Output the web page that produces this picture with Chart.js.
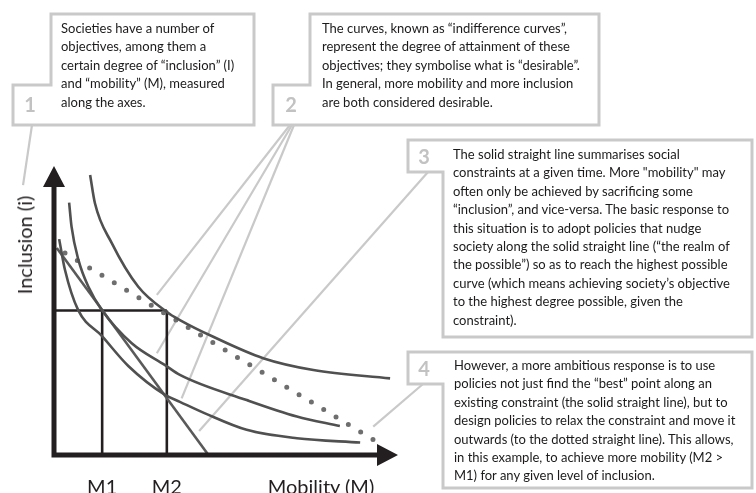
<!DOCTYPE html>
<html><head><meta charset="utf-8">
<script src="https://cdn.jsdelivr.net/npm/chart.js@4.4.1/dist/chart.umd.min.js"></script>
<style>
html,body{margin:0;padding:0;background:#fff;}
#wrap{position:relative;width:756px;height:493px;overflow:hidden;background:#fff;}
canvas{position:absolute;left:0;top:0;}
.txt{position:absolute;font-family:Lato,sans-serif;font-size:13px;line-height:18.4px;color:#1c1a1b;white-space:pre;}
.num{position:absolute;font-family:Lato,sans-serif;font-weight:bold;font-size:20px;color:#c2c2c2;transform:translate(-50%,-50%);line-height:1;}
.lab{position:absolute;font-family:Lato,sans-serif;font-size:20px;color:#231f20;white-space:nowrap;line-height:20px;}
</style></head>
<body><div id="wrap"><canvas id="c" width="756" height="493"></canvas></div>
<script>
// ---- data ----
const curveA_x = [1.05, 1.19, 1.68, 2.45, 3.28, 3.66, 4.63, 6.08, 7.54, 9.77];
const curveA_y = [9.69, 8.71, 7.33, 5.82, 4.95, 4.67, 4.09, 3.35, 2.94, 2.65];
const curveB_x = [0.44, 0.51, 0.71, 1.00, 1.39, 2.26, 3.23, 3.66, 5.60, 7.06, 8.31];
const curveB_y = [8.73, 7.90, 6.75, 5.82, 5.02, 3.87, 3.11, 2.77, 1.90, 1.33, 1.00];
const curveC_x = [0.15, 0.32, 0.70, 1.39, 2.16, 3.23, 3.66, 4.39, 5.60, 7.06, 8.90];
const curveC_y = [7.47, 6.40, 5.02, 4.12, 3.08, 2.08, 1.84, 1.44, 0.87, 0.58, 0.43];
const constraint_x = [0.08, 4.49];
const constraint_y = [7.16, 0];
const relaxed_x = [0.32, 9.30];
const relaxed_y = [6.99, 0.52];
const mValues = [1.40, 3.28];
const mLabels = ['M1', 'M2'];
const inclusionLevel = 5.0;
// leader line targets (data coords)
const leader1 = [-0.90, 9.34];
const leader2 = [[2.99, 5.54], [2.99, 3.52], [3.71, 1.96]];
const leader3 = [4.22, 0.83];
const leader4 = [9.28, 0.98];

const box1Text = ['Societies have a number of','objectives, among them a','certain degree of \u201cinclusion\u201d (I)','and \u201cmobility\u201d (M), measured','along the axes.'];
const box2Text = ['The curves, known as \u201cindifference curves\u201d,','represent the degree of attainment of these','objectives; they symbolise what is \u201cdesirable\u201d.','In general, more mobility and more inclusion','are both considered desirable.'];
const box3Text = ['The solid straight line summarises social','constraints at a given time. More "mobility" may','often only be achieved by sacrificing some','\u201cinclusion\u201d, and vice-versa. The basic response to','this situation is to adopt policies that nudge','society along the solid straight line (\u201cthe realm of','the possible\u201d) so as to reach the highest possible','curve (which means achieving society\u2019s objective','to the highest degree possible, given the','constraint).'];
const box4Text = ['However, a more ambitious response is to use','policies not just find the \u201cbest\u201d point along an','existing constraint (the solid straight line), but to','design policies to relax the constraint and move it','outwards (to the dotted straight line). This allows,','in this example, to achieve more mobility (M2 >','M1) for any given level of inclusion.'];

const toPts = (xs, ys) => xs.map((x, i) => ({x, y: ys[i]}));

const wrap = document.getElementById('wrap');
function addDiv(cls, text, left, top, extra) {
  const d = document.createElement('div');
  d.className = cls; d.textContent = text;
  d.style.left = left + 'px'; d.style.top = top + 'px';
  if (extra) Object.assign(d.style, extra);
  wrap.appendChild(d); return d;
}

// callout box layout (pixels)
const boxes = [
  {shape:[[51,14],[254,14],[254,125],[13,125],[13,85],[51,85]], num:'1', nx:30, ny:104, text:box1Text, tx:61, ty:19, from:[[32,125]], to:[leader1]},
  {shape:[[310,14],[599,14],[599,125],[273,125],[273,85],[310,85]], num:'2', nx:291, ny:104, text:box2Text, tx:322, ty:19, from:[[290,125],[292,125],[294,125]], to:leader2},
  {shape:[[408,140],[752,140],[752,337],[443,337],[443,172],[408,172]], num:'3', nx:424, ny:156, text:box3Text, tx:453, ty:145, from:[[428,172]], to:[leader3]},
  {shape:[[408,352],[752,352],[752,488],[443,488],[443,384],[408,384]], num:'4', nx:424, ny:368, text:box4Text, tx:454, ty:356, from:[[423,384]], to:[leader4]}
];

const annot = {
  id: 'annot',
  beforeDatasetsDraw(chart) {
    const {ctx, scales:{x, y}} = chart;
    ctx.save();
    ctx.strokeStyle = '#c9c9c9';
    ctx.lineWidth = 2.2;
    boxes.forEach(b => {
      b.from.forEach((f, i) => {
        const t = b.to[i];
        ctx.beginPath();
        ctx.moveTo(f[0], f[1]);
        ctx.lineTo(x.getPixelForValue(t[0]), y.getPixelForValue(t[1]));
        ctx.stroke();
      });
    });
    ctx.lineWidth = 3;
    ctx.lineJoin = 'miter';
    boxes.forEach(b => {
      ctx.beginPath();
      b.shape.forEach((p, i) => i ? ctx.lineTo(p[0], p[1]) : ctx.moveTo(p[0], p[1]));
      ctx.closePath();
      ctx.stroke();
    });
    ctx.restore();
  },
  afterDatasetsDraw(chart) {
    const {ctx, scales:{x, y}} = chart;
    const x0 = x.getPixelForValue(0), y0 = y.getPixelForValue(0);
    const xt = x.getPixelForValue(10), yt = y.getPixelForValue(10);
    ctx.save();
    ctx.strokeStyle = '#231f20'; ctx.fillStyle = '#231f20';
    ctx.lineWidth = 5;
    ctx.beginPath();
    ctx.moveTo(x0, y0 + 2.5); ctx.lineTo(x0, yt + 18);
    ctx.moveTo(x0 - 2.5, y0); ctx.lineTo(xt - 18, y0);
    ctx.stroke();
    ctx.beginPath();
    ctx.moveTo(x0, yt); ctx.lineTo(x0 - 11, yt + 21); ctx.lineTo(x0 + 11, yt + 21); ctx.closePath();
    ctx.moveTo(xt, y0); ctx.lineTo(xt - 21, y0 - 11); ctx.lineTo(xt - 21, y0 + 11); ctx.closePath();
    ctx.fill();
    ctx.restore();
  }
};

const curveStyle = {borderColor:'#505050', borderWidth:2.6, pointRadius:0, cubicInterpolationMode:'monotone', fill:false};
const frameStyle = {borderColor:'#231f20', borderWidth:2.6, pointRadius:0, tension:0, fill:false};

const chart = new Chart(document.getElementById('c'), {
  type: 'scatter',
  data: {
    datasets: [
      Object.assign({label:'Curve A', data: toPts(curveA_x, curveA_y), showLine:true}, curveStyle),
      Object.assign({label:'Curve B', data: toPts(curveB_x, curveB_y), showLine:true}, curveStyle),
      Object.assign({label:'Curve C', data: toPts(curveC_x, curveC_y), showLine:true}, curveStyle),
      {label:'Constraint', data: toPts(constraint_x, constraint_y), showLine:true, borderColor:'#5a5a5a', borderWidth:2.6, pointRadius:0, tension:0},
      {label:'Relaxed constraint', data: toPts(relaxed_x, relaxed_y), showLine:true, borderColor:'#6e6e6e', borderWidth:5, borderDash:[0, 14.4], borderCapStyle:'round', pointRadius:0, tension:0},
      Object.assign({label:'Level', data:[{x:0, y:inclusionLevel}, {x:mValues[1], y:inclusionLevel}], showLine:true}, frameStyle),
      Object.assign({label:'M1', data:[{x:mValues[0], y:0}, {x:mValues[0], y:inclusionLevel}], showLine:true}, frameStyle),
      Object.assign({label:'M2', data:[{x:mValues[1], y:0}, {x:mValues[1], y:inclusionLevel}], showLine:true}, frameStyle)
    ]
  },
  options: {
    responsive: false, animation: false, devicePixelRatio: 1,
    layout: {padding: {left: 54, right: 358, top: 166, bottom: 38}},
    scales: {
      x: {type:'linear', min:0, max:10, display:false},
      y: {type:'linear', min:0, max:10, display:false}
    },
    plugins: {legend:{display:false}, tooltip:{enabled:false}},
    elements: {point:{radius:0}}
  },
  plugins: [annot]
});

// HTML text
boxes.forEach(b => {
  addDiv('txt', b.text.join('\n'), b.tx, b.ty);
  addDiv('num', b.num, b.nx, b.ny);
});
const xs = chart.scales.x, ys = chart.scales.y;
mValues.forEach((m, i) => {
  addDiv('lab', mLabels[i], xs.getPixelForValue(m), 476, {transform:'translateX(-50%)'});
});
addDiv('lab', 'Mobility (M)', 321, 476, {transform:'translateX(-50%)'});
addDiv('lab', 'Inclusion (i)', 24, 245, {transform:'translate(-50%,-50%) rotate(-90deg)'});
</script>
</body></html>
